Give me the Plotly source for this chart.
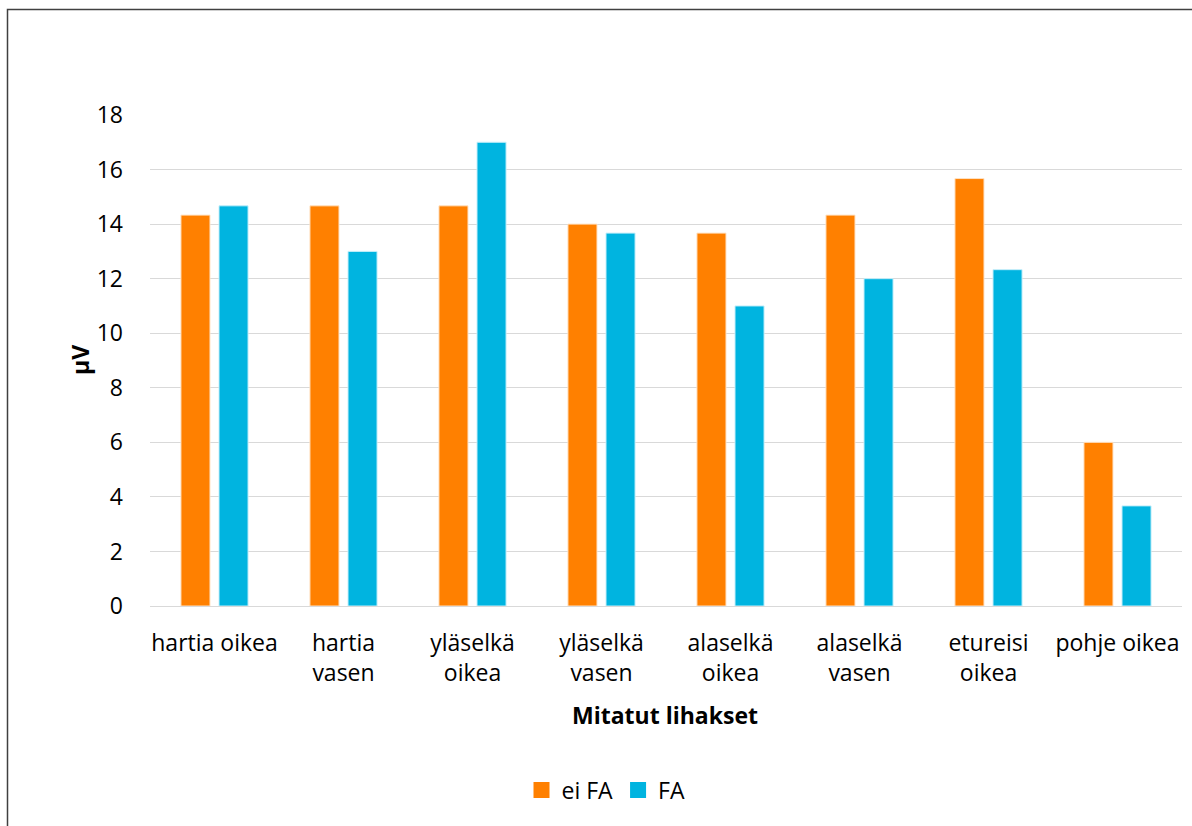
import plotly.graph_objects as go

# Measured muscle activity (µV) per muscle, with and without FA
muscles = [
    "hartia oikea",
    "hartia<br>vasen",
    "yläselkä<br>oikea",
    "yläselkä<br>vasen",
    "alaselkä<br>oikea",
    "alaselkä<br>vasen",
    "etureisi<br>oikea",
    "pohje oikea",
]
ei_fa = [14.33, 14.67, 14.67, 14.0, 13.67, 14.33, 15.67, 6.0]
fa = [14.67, 13.0, 17.0, 13.67, 11.0, 12.0, 12.33, 3.67]
series_names = ["ei FA", "FA"]
y_ticks = [0, 2, 4, 6, 8, 10, 12, 14, 16, 18]

FONT = "'Open Sans', sans-serif"
ORANGE = "#FF8000"
BLUE = "#00B4E0"
FS = 23

fig = go.Figure()
for vals, name, col, edge in [(ei_fa, series_names[0], ORANGE, "#FFE2C4"),
                              (fa, series_names[1], BLUE, "#C4EEFA")]:
    fig.add_trace(go.Bar(x=muscles, y=vals, name=name, showlegend=False,
                         marker=dict(color=col, line=dict(color=edge, width=1))))
    # legend entry with a larger square swatch
    fig.add_trace(go.Scatter(x=[None], y=[None], mode="markers", name=name,
                             marker=dict(symbol="square", size=16, color=col)))

L, R, T, B = 150, 10, 115, 220
W, H = 1192, 826
pw, ph = W - L - R, H - T - B

def px_x(p):
    return (p - L) / pw

def px_y(p):
    return (H - B - p) / ph

fig.update_layout(
    width=W, height=H,
    margin=dict(l=L, r=R, t=T, b=B),
    paper_bgcolor="white", plot_bgcolor="white",
    font=dict(family=FONT, size=FS, color="#000000"),
    barmode="group", bargap=0.41, bargroupgap=0.237,
    showlegend=True,
    legend=dict(orientation="h", x=px_x(606), xanchor="center", y=px_y(790), yanchor="middle",
                font=dict(size=FS), itemwidth=30, traceorder="normal"),
    xaxis=dict(showgrid=False, showline=True, linecolor="#D9D9D9", linewidth=1,
               ticks="", tickfont=dict(size=FS), ticklabelstandoff=16),
    yaxis=dict(range=[0, 18], tickvals=y_ticks, showgrid=True, gridcolor="#D9D9D9",
               gridwidth=1, zeroline=False, showline=False, ticks="",
               tickfont=dict(size=FS), ticklabelstandoff=26),
    annotations=[
        dict(text="<b>Mitatut lihakset</b>", xref="paper", yref="paper",
             x=px_x(665), y=px_y(715), xanchor="center", yanchor="middle",
             showarrow=False, font=dict(size=FS)),
        dict(text="<b>µV</b>", xref="paper", yref="paper", textangle=-90,
             x=px_x(80), y=px_y(360), xanchor="center", yanchor="middle",
             showarrow=False, font=dict(size=FS)),
    ],
    shapes=[
        dict(type="rect", xref="paper", yref="paper",
             x0=px_x(7.5), x1=px_x(1200), y0=px_y(840), y1=px_y(9.5),
             line=dict(color="#404040", width=1.5), fillcolor="rgba(0,0,0,0)", layer="below"),
    ],
)

fig.write_html("out.html")
